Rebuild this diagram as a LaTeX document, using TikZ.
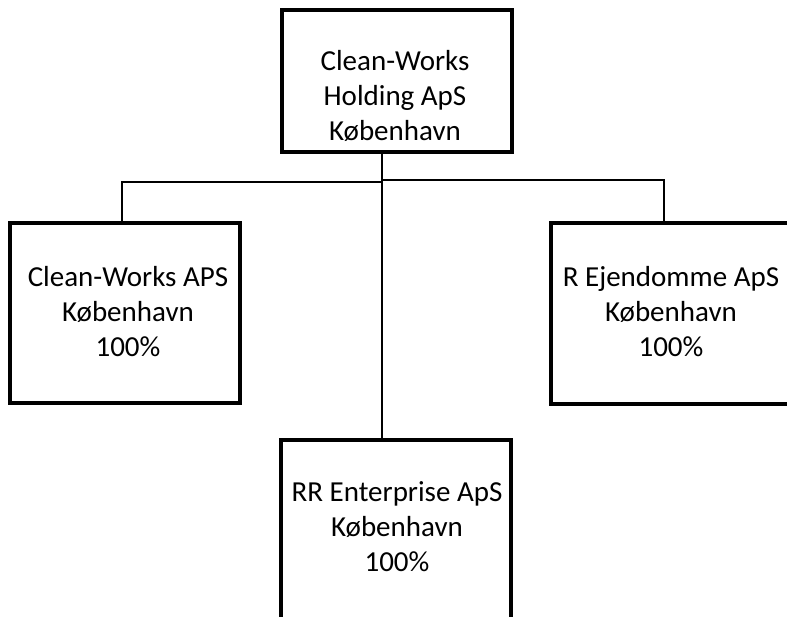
\documentclass[tikz,border=0pt]{standalone}
\usepackage{fontspec}
\setmainfont{Carlito}
\begin{document}
\begin{tikzpicture}[x=1pt,y=-1pt,
  kasten/.style={draw, line width=4pt, minimum width=230pt, inner sep=0pt},
  navn/.style={align=center, font=\fontsize{29}{35}\selectfont, inner sep=0pt},
  linie/.style={line width=1.8pt}]

\clip (0,0) rectangle (787,617);

%Kasten
\node[kasten, minimum height=142pt] (holding) at (397,81) {};
\node[kasten, minimum height=180pt] (cleanworks) at (125,313) {};
\node[kasten, minimum width=250pt, minimum height=180pt] (ejendomme) at (676,313.5) {};
\node[kasten, minimum height=180pt] (enterprise) at (396,530) {};

%Beschriftung
\node[navn] (holdingtxt) at (395,96) {Clean-Works\\Holding ApS\\København};
\node[navn] (cleanworkstxt) at (128,312) {Clean-Works APS\\København\\100\%};
\node[navn] (ejendommetxt) at (671,312) {R Ejendomme ApS\\København\\100\%};
\node[navn] (enterprisetxt) at (397,527) {RR Enterprise ApS\\København\\100\%};

%Linien
\coordinate (stamm) at (382,181);
\coordinate (links) at (122,182);
\coordinate (rechts) at (664,180);
\draw[linie] (holding.south -| stamm) -- (enterprise.north -| stamm);
\draw[linie] (cleanworks.north -| links) -- (links) -- (stamm |- links);
\draw[linie] (stamm |- rechts) -- (rechts) -- (ejendomme.north -| rechts);

\end{tikzpicture}
\end{document}
